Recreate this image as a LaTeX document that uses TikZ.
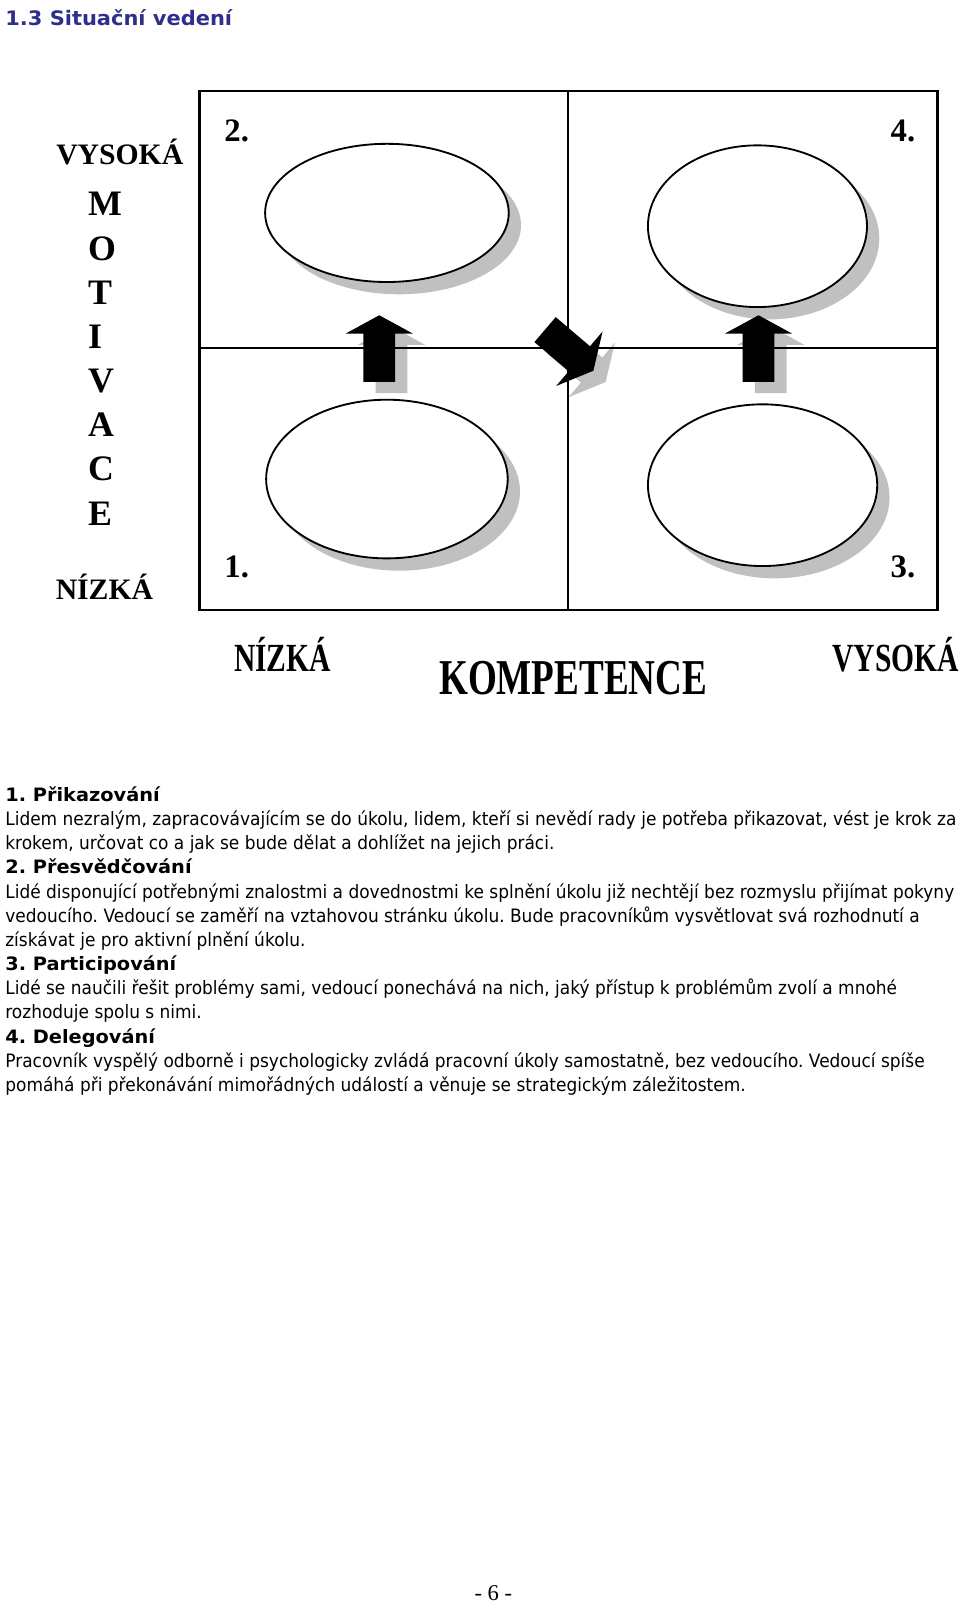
\documentclass[tikz,border=0pt]{standalone}
\usepackage{fontspec}
\usepackage{graphicx}
\usetikzlibrary{shapes.geometric}
\setmainfont{Liberation Serif}
\newfontfamily\bodyfont[FakeStretch=0.922]{DejaVu Sans}
\newfontfamily\headfont[FakeStretch=1.05]{DejaVu Sans}
\definecolor{titleblue}{RGB}{46,46,140}
\definecolor{shadowgray}{RGB}{192,192,192}
\frenchspacing
\begin{document}
\begin{tikzpicture}[x=1pt,y=-1pt,
  lbl/.style={inner sep=0pt, anchor=base, font=\bfseries\fontsize{29}{30}\selectfont},
  letter/.style={inner sep=0pt, anchor=base west, font=\bfseries\fontsize{35}{36}\selectfont},
  num/.style={inner sep=0pt, anchor=base west, font=\bfseries\fontsize{32}{33}\selectfont},
  blbl/.style={inner sep=0pt, anchor=base, font=\bfseries\fontsize{39}{40}\selectfont},
  body/.style={inner sep=0pt, anchor=base west, font=\bodyfont\fontsize{18}{20}\selectfont},
  head/.style={inner sep=0pt, anchor=base west, font=\headfont\bfseries\fontsize{18}{20}\selectfont},
  oval/.style={ellipse, inner sep=0pt, draw=black, line width=1.8pt, fill=white},
  ovalshadow/.style={ellipse, inner sep=0pt, fill=shadowgray},
  gridline/.style={line width=2.4pt, draw=black}
]
\useasboundingbox (0,0) rectangle (938,1568);
\fill[white] (0,0) rectangle (938,1568);

% title
\node[inner sep=0pt, anchor=base west, text=titleblue, font=\headfont\bfseries\fontsize{19.5}{21}\selectfont] (title) at (5,24.5) {1.3 Situační vedení};

% ellipse shadows
\node[ovalshadow, minimum width=238pt, minimum height=135pt] (s2) at (390,220) {};
\node[ovalshadow, minimum width=214pt, minimum height=158pt] (s4) at (752,233) {};
\node[ovalshadow, minimum width=236pt, minimum height=155pt] (s1) at (390,480) {};
\node[ovalshadow, minimum width=224pt, minimum height=158pt] (s3) at (757,486) {};

% arrow shadows
\fill[shadowgray] (382.5,319) -- (415.5,337) -- (398,337) -- (398,384) -- (367,384) -- (367,337) -- (349.5,337) -- cycle;
\fill[shadowgray] (753,319) -- (786,337) -- (768.5,337) -- (768.5,384) -- (737.5,384) -- (737.5,337) -- (720,337) -- cycle;
\fill[shadowgray] (534.1,345.2) -- (554.9,320.8) -- (588.4,349.3) -- (600.7,334.8) -- (591.7,373.2) -- (555.3,388.1) -- (567.6,373.7) -- cycle;

% grid
\draw[gridline] (195,89) rectangle (916,596);
\draw[gridline] (555,89) -- (555,596);
\draw[gridline] (195,340) -- (916,340);

% ellipses
\node[oval, minimum width=238pt, minimum height=135pt] (e2) at (378,208) {};
\node[oval, minimum width=214pt, minimum height=158pt] (e4) at (740,221) {};
\node[oval, minimum width=236pt, minimum height=155pt] (e1) at (378,468) {};
\node[oval, minimum width=224pt, minimum height=158pt] (e3) at (745,474) {};

% arrows
\fill[black] (370.5,308) -- (403.5,326) -- (386,326) -- (386,373) -- (355,373) -- (355,326) -- (337.5,326) -- cycle;
\fill[black] (741,308) -- (774,326) -- (756.5,326) -- (756.5,373) -- (725.5,373) -- (725.5,326) -- (708,326) -- cycle;
\fill[black] (522.1,334.2) -- (542.9,309.8) -- (576.4,338.3) -- (588.7,323.8) -- (579.7,362.2) -- (543.3,377.1) -- (555.6,362.7) -- cycle;

% quadrant numbers
\node[num] (n2) at (219,138) {2.};
\node[num] (n4) at (870,138) {4.};
\node[num] (n1) at (219,564) {1.};
\node[num] (n3) at (870,564) {3.};

% vertical axis
\node[lbl] (yhigh) at (117,161) {VYSOKÁ};
\node[letter] (m1) at (86,211) {M};
\node[letter] (m2) at (86,254.1) {O};
\node[letter] (m3) at (86,297.3) {T};
\node[letter] (m4) at (86,340.4) {I};
\node[letter] (m5) at (86,383.6) {V};
\node[letter] (m6) at (86,426.7) {A};
\node[letter] (m7) at (86,469.9) {C};
\node[letter] (m8) at (86,513) {E};
\node[lbl] (ylow) at (102,586) {NÍZKÁ};

% horizontal axis
\node[blbl] (xlow) at (276,656) {\scalebox{0.74}[1]{NÍZKÁ}};
\node[blbl, font=\bfseries\fontsize{49}{50}\selectfont] (xlabel) at (560,678) {\scalebox{0.74}[1]{KOMPETENCE}};
\node[blbl] (xhigh) at (875,656) {\scalebox{0.74}[1]{VYSOKÁ}};

% text
\node[head] (h1) at (5,783) {1. Přikazování};
\node[body] (b1a) at (5,806.6) {Lidem nezralým, zapracovávajícím se do úkolu, lidem, kteří si nevědí rady je potřeba přikazovat, vést je krok za};
\node[body] (b1b) at (5,830.2) {krokem, určovat co a jak se bude dělat a dohlížet na jejich práci.};
\node[head] (h2) at (5,853.8) {2. Přesvědčování};
\node[body] (b2a) at (5,877.4) {Lidé disponující potřebnými znalostmi a dovednostmi ke splnění úkolu již nechtějí bez rozmyslu přijímat pokyny};
\node[body] (b2b) at (5,901) {vedoucího. Vedoucí se zaměří na vztahovou stránku úkolu. Bude pracovníkům vysvětlovat svá rozhodnutí a};
\node[body] (b2c) at (5,924.6) {získávat je pro aktivní plnění úkolu.};
\node[head] (h3) at (5,948.2) {3. Participování};
\node[body] (b3a) at (5,971.8) {Lidé se naučili řešit problémy sami, vedoucí ponechává na nich, jaký přístup k problémům zvolí a mnohé};
\node[body] (b3b) at (5,995.4) {rozhoduje spolu s nimi.};
\node[head] (h4) at (5,1019) {4. Delegování};
\node[body] (b4a) at (5,1042.6) {Pracovník vyspělý odborně i psychologicky zvládá pracovní úkoly samostatně, bez vedoucího. Vedoucí spíše};
\node[body] (b4b) at (5,1066.2) {pomáhá při překonávání mimořádných událostí a věnuje se strategickým záležitostem.};

% page number
\node[inner sep=0pt, anchor=base, font=\fontsize{22}{24}\selectfont] (page) at (482,1564) {- 6 -};
\end{tikzpicture}
\end{document}
